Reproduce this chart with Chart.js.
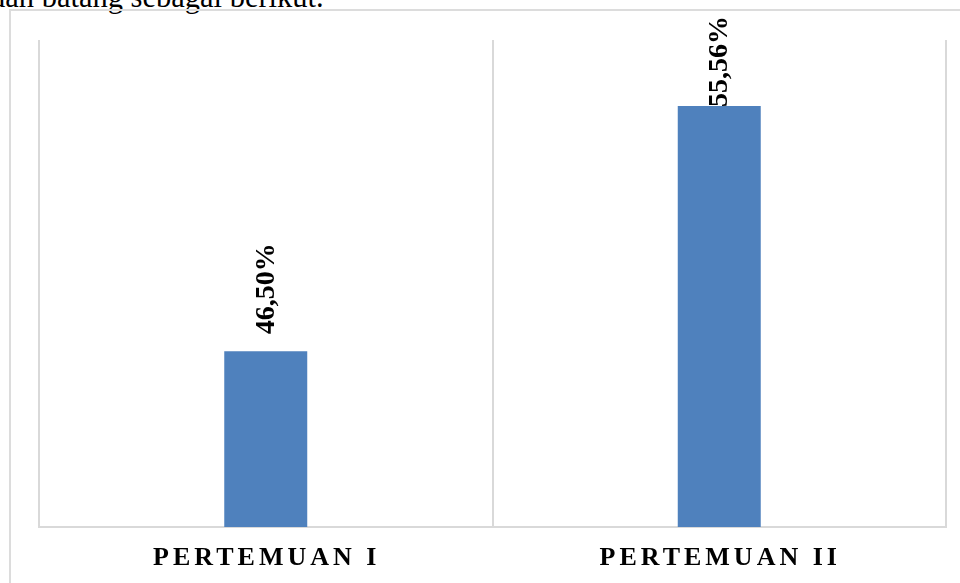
<!DOCTYPE html>
<html>
<head>
<meta charset="utf-8">
<script src="https://cdn.jsdelivr.net/npm/chart.js@4.4.1/dist/chart.umd.min.js"></script>
<style>
  html, body { margin: 0; padding: 0; background: #fff; overflow: hidden; }
  #page { position: relative; width: 960px; height: 583px; overflow: hidden; }
  #lead {
    position: absolute; left: -10px; top: -18px; white-space: nowrap;
    font-family: "Liberation Serif", "Times New Roman", serif; font-size: 30.5px; line-height: 30.5px; color: #000;
  }
  #frame {
    position: absolute; left: 9px; top: 9px; width: 1000px; height: 1000px;
    border: 2px solid #dcdcdc; box-sizing: border-box;
  }
  #chart { position: absolute; left: 0; top: 0; }
</style>
</head>
<body>
<div id="page">
  <div id="lead">dan batang sebagai berikut.</div>
  <div id="frame"></div>
  <canvas id="chart" width="960" height="583"></canvas>
</div>
<script>
// chart data
const categories = ['PERTEMUAN I', 'PERTEMUAN II'];
const percentValues = [46.50, 55.56];
const valueLabels = ['46,50%', '55,56%'];

const barColor = '#4f81bd';
const gridColor = '#d9d9d9';
const serif = '"Liberation Serif", "Times New Roman", serif';

// rotated value labels above each bar
const barLabelPlugin = {
    id: 'barLabels',
    afterDatasetsDraw(chart) {
        const ctx = chart.ctx;
        const meta = chart.getDatasetMeta(0);
        ctx.save();
        ctx.font = 'bold 28px ' + serif;
        ctx.fillStyle = '#000';
        ctx.textAlign = 'left';
        ctx.textBaseline = 'middle';
        meta.data.forEach((bar, i) => {
            const text = valueLabels[i];
            const w = ctx.measureText(text).width;
            let end = bar.y - 17;
            // keep the label inside the frame, like the original does
            if (end - w < 16) end = 16 + w;
            ctx.save();
            ctx.translate(bar.x + 1, end);
            ctx.rotate(-Math.PI / 2);
            ctx.fillText(text, 0, 0);
            ctx.restore();
        });
        ctx.restore();
    },
    afterDraw(chart) {
        // category names with wide letter spacing
        const ctx = chart.ctx;
        const xs = chart.scales.x;
        ctx.save();
        ctx.font = 'bold 26px ' + serif;
        ctx.fillStyle = '#000';
        ctx.textAlign = 'center';
        ctx.textBaseline = 'middle';
        ctx.letterSpacing = '4px';
        categories.forEach((c, i) => {
            ctx.fillText(c, xs.getPixelForValue(i) + 1, 558);
        });
        ctx.restore();
    }
};

new Chart(document.getElementById('chart'), {
    type: 'bar',
    data: {
        labels: categories,
        datasets: [{
            data: percentValues,
            backgroundColor: barColor,
            borderWidth: 0,
            categoryPercentage: 1,
            barPercentage: 0.183
        }]
    },
    options: {
        responsive: false,
        animation: false,
        layout: { padding: { left: 39, right: 14, top: 40, bottom: 56 } },
        plugins: {
            legend: { display: false },
            tooltip: { enabled: false }
        },
        scales: {
            x: {
                grid: { color: gridColor, lineWidth: 2, drawTicks: false },
                border: { color: gridColor, width: 2 },
                ticks: { display: false }
            },
            y: {
                display: false,
                min: 40,
                max: 58
            }
        }
    },
    plugins: [barLabelPlugin]
});
</script>
</body>
</html>
